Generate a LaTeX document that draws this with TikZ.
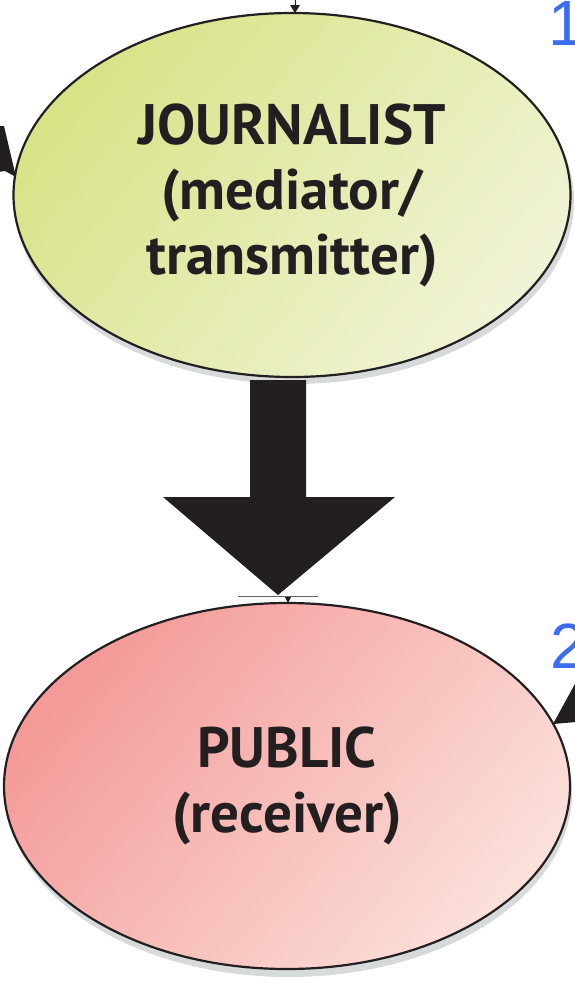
\documentclass[tikz,border=0pt]{standalone}
\usepackage{fontspec}
\setmainfont{PT Sans}
\newfontfamily\numfont{Liberation Sans}
\usetikzlibrary{shapes.geometric,calc}
\definecolor{inkc}{HTML}{231F20}
\definecolor{numblue}{HTML}{3A6CF4}
\definecolor{jourL}{HTML}{D8E387}
\definecolor{jourR}{HTML}{F1F3D6}
\definecolor{pubL}{HTML}{F49A98}
\definecolor{pubR}{HTML}{FBE0DA}
\definecolor{shadowc}{HTML}{D6DADA}
\tikzset{
  bubble/.style={ellipse, draw=inkc, line width=2.2pt, inner sep=0pt, align=center,
    text=inkc, font=\fontsize{57}{65}\selectfont\bfseries},
  bubshadow/.style={ellipse, fill=shadowc, inner sep=0pt},
  numlabel/.style={anchor=base west, inner sep=0pt, text=numblue, font=\numfont\fontsize{64}{64}\selectfont},
  headfill/.style={fill=inkc, draw=none},
}
\begin{document}
\begin{tikzpicture}[x=1pt,y=-1pt]
\useasboundingbox (0,0) rectangle (574,986);
% shadows
\node[bubshadow, minimum width=560pt, minimum height=366pt] at (294,201) {};
\node[bubshadow, minimum width=566pt, minimum height=368pt] at (289,793) {};
% ellipses
\node[bubble, minimum width=557pt, minimum height=364pt, left color=jourL, right color=jourR, shading angle=50] (jour) at (292,195) {JOURNALIST\\(mediator/\\transmitter)};
\node[bubble, minimum width=566pt, minimum height=366pt, left color=pubL, right color=pubR, shading angle=50] (pub) at (287,786) {PUBLIC\\(receiver)};
% big arrow from jour to pub
\coordinate (abase) at (278,380);
\coordinate (atip) at (278,595);
\fill[headfill] ($(abase)+(-28,0)$) -- ($(abase)+(28,0)$) -- ($(abase)+(28,117)$) -- ($(abase)+(117,117)$) -- (atip) -- ($(abase)+(-115,117)$) -- ($(abase)+(-28,117)$) -- cycle;
% thin original connector end
\coordinate (thinL) at (238,596);
\coordinate (thinR) at (318,596);
\draw[inkc!70, line width=0.8pt] (thinL) -- (thinR);
\coordinate (smalltip) at (288,603);
\fill[headfill] ($(smalltip)+(-3,-6)$) -- ($(smalltip)+(3,-6)$) -- (smalltip) -- cycle;
% top incoming arrow
\coordinate (toptip) at (295,13);
\fill[headfill] ($(toptip)+(-5,-8)$) -- ($(toptip)+(5,-8)$) -- (toptip) -- cycle;
\draw[inkc, line width=1pt] ($(toptip)+(0,-8)$) -- ++(0,-6);
% left incoming arrow head
\coordinate (lefttip) at (16,177);
\fill[headfill] (lefttip) -- (4,126) -- (-2,126) -- (-2,172) -- (5,171) -- cycle;
% right incoming arrow head
\coordinate (righttip) at (553,724);
\fill[headfill] (righttip) -- (576,682) -- (576,722) -- cycle;
% numbers
\node[numlabel] (n1) at (548,45) {1};
\node[numlabel] (n2) at (550,668) {2};
\end{tikzpicture}
\end{document}
